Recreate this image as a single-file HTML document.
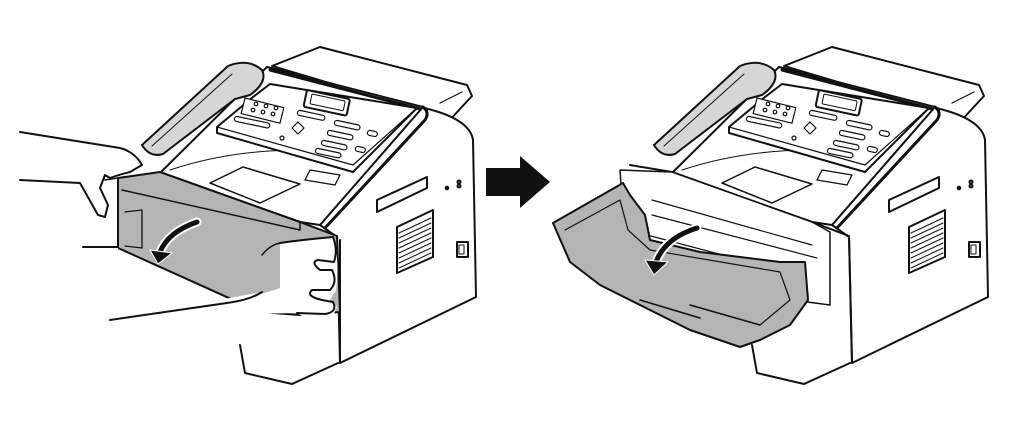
<!DOCTYPE html>
<html><head><meta charset="utf-8"><style>
html,body{margin:0;padding:0;background:#fff;width:1030px;height:427px;overflow:hidden}
svg{display:block}
</style></head><body>
<svg width="1030" height="427" viewBox="0 0 1030 427" xmlns="http://www.w3.org/2000/svg" fill="none" stroke="#111" stroke-width="2" stroke-linejoin="round" stroke-linecap="round">
<defs>
<g id="machine">
  <!-- top paper tray -->
  <path d="M272,66 L320,47 L467,85 L472,96 L447,123 L420,110 Z" fill="#fff"/>
  <path d="M440,103 L462,92" stroke-width="1.2"/>
  <!-- body side -->
  <path d="M420,107 Q470,118 473,140 L476,297 L340,363 L337,237 L320,225 Z" fill="#fff"/>
  <!-- base -->
  <path d="M240,345 L245,373 L292,384 L338,363" fill="#fff"/>
  <!-- lid / top -->
  <path d="M160,173 L267,67 L423,107 L320,225 L300,222 Z" fill="#fff"/>
  <path d="M270,70 L420,109 M423,107 Q430,112 425,120 L325,228" stroke-width="3"/>
  <!-- interior under panel -->
  <path d="M170,170 Q230,150 300,150" stroke-width="1"/>
  <path d="M210,183 L243,167 L300,184 L260,203 Z" fill="#fff" stroke-width="1.5"/>
  <path d="M310,170 L340,175 L335,185 L305,180 Z" fill="#fff" stroke-width="1.3"/>
  <!-- control panel -->
  <path d="M217,127 L253,97 L270,84 L417,108 L353,172 L217,133 Z" fill="#fff"/>
  <path d="M217,127 L353,165 L417,108" stroke-width="1.2"/>
  <rect x="0" y="0" width="44" height="17" rx="2" transform="translate(307,90) rotate(12)" fill="#fff"/>
  <rect x="0" y="0" width="34" height="10" rx="1" transform="translate(312,94) rotate(12)" fill="#fff" stroke-width="1"/>
  <g fill="#fff" stroke-width="1.2">
    <rect x="0" y="0" width="40" height="16" transform="translate(245,98) rotate(14)"/>
    <circle cx="256" cy="104" r="1.8"/><circle cx="266" cy="106" r="1.8"/><circle cx="276" cy="108" r="1.8"/>
    <circle cx="253" cy="110" r="1.8"/><circle cx="263" cy="112" r="1.8"/><circle cx="273" cy="114" r="1.8"/>
    <rect x="0" y="0" width="36" height="5" rx="2.5" transform="translate(235,116) rotate(12)"/>
    <rect x="0" y="0" width="28" height="5" rx="2.5" transform="translate(298,110) rotate(12)"/>
    <rect x="0" y="0" width="26" height="5" rx="2.5" transform="translate(335,120) rotate(12)"/>
    <rect x="0" y="0" width="26" height="5" rx="2.5" transform="translate(328,130) rotate(12)"/>
    <rect x="0" y="0" width="26" height="5" rx="2.5" transform="translate(322,140) rotate(12)"/>
    <rect x="0" y="0" width="26" height="5" rx="2.5" transform="translate(316,148) rotate(12)"/>
    <rect x="0" y="0" width="10" height="5" rx="2.5" transform="translate(368,130) rotate(12)"/>
    <rect x="0" y="0" width="10" height="5" rx="2.5" transform="translate(356,146) rotate(12)"/>
    <path d="M292,128 l6,-6 l6,6 l-6,6 Z"/>
    <circle cx="282" cy="138" r="2"/>
  </g>
  <!-- handset -->
  <path d="M142,145 L228,66 Q248,58 262,70 Q268,82 250,95 L235,99 L163,154 Q150,158 142,145 Z" fill="#d6d6d6"/>
  <path d="M152,146 L232,74" stroke-width="1"/>
  <!-- side details -->
  <path d="M377,200 L427,177 L427,188 L377,212 Z" fill="#fff"/>
  <path d="M397,227 L433,210 L433,257 L397,273 Z" fill="#fff"/>
  <g stroke-width="1"><path d="M399,233 L431,218 M399,238 L431,223 M399,243 L431,228 M399,248 L431,233 M399,253 L431,238 M399,258 L431,243 M399,263 L431,248 M399,268 L431,253"/></g>
  <rect x="457" y="242" width="11" height="15" fill="#fff"/>
  <rect x="459" y="245" width="5" height="9" fill="#fff" stroke-width="1"/>
  <circle cx="447" cy="188" r="1.3"/><circle cx="459" cy="182" r="1.5"/><circle cx="459" cy="186" r="1.5"/>
</g>
</defs>

<!-- ================ Left machine ================ -->
<use href="#machine"/>
<!-- closed front cover -->
<path d="M118,178 L160,172 L300,222 L337,236 L340,312 L300,315 L260,312 L118,248 Z" fill="#b4b4b4"/>
<path d="M160,172 L300,222 L300,230 L122,190" stroke-width="1.5"/>
<path d="M125,212 L142,210 L142,248 L125,246" stroke-width="1.3"/>
<path d="M340,240 L340,363" stroke-width="2"/>
<!-- curved arrow -->
<path d="M197,222 Q168,232 160,252" stroke="#fff" stroke-width="9"/>
<path d="M197,222 Q168,232 160,252" stroke-width="5"/>
<path d="M150,250 L158,264 L172,253 Z" fill="#111" stroke="#fff" stroke-width="1"/>
<!-- upper hand -->
<path d="M20,132 L120,148 Q135,152 142,165 L130,172 Q118,175 110,178 L105,175 L100,188 L108,205 L105,217 L98,215 L80,183 L20,180" fill="#fff"/>
<path d="M105,180 L118,178" stroke-width="1.5"/>
<!-- lower hand -->
<path d="M83,247 L118,248 L118,255 M110,320 L227,303 Q250,298 280,288 L280,243 L333,237 Q340,260 336,290 L330,300 L337,307 L332,318 Q310,322 297,313 L250,314 Q225,318 200,318 L112,326 Z" fill="#fff" stroke="none"/>
<path d="M83,247 L117,247" />
<path d="M110,320 L227,303 Q250,300 262,292 M280,243 Q300,240 333,237 Q338,250 334,262 L318,260 Q310,262 320,270 L332,270 Q338,282 330,290 L312,290 Q305,296 322,300 L333,302 Q338,312 325,314 L297,313" fill="#fff"/>
<path d="M280,243 Q270,245 262,255" stroke-width="1.5"/>

<!-- Arrow -->
<path d="M486,168 L520,168 L520,156 L550,182 L520,208 L520,196 L486,196 Z" fill="#111" stroke="none"/>

<!-- ================ Right machine ================ -->
<g transform="translate(512,0)">
<use href="#machine"/>
<!-- opening frame -->
<path d="M118,165 L160,172 L300,222 L337,236 L340,363" fill="none"/>
<path d="M108,170 L160,172 L300,222 L318,232 L318,305 L130,280 L112,230 Z" fill="#fff" stroke-width="1.5"/>
<path d="M140,200 L300,245 M140,215 L305,258 M135,235 L260,268" stroke-width="1.2"/>
<path d="M140,250 L260,275" stroke-width="3"/>
<path d="M245,265 L275,270 L275,278 L245,273 Z" fill="#fff" stroke-width="1"/>
</g>
<!-- open cover -->
<path d="M553,223 L623,183 L630,195 L645,215 L650,240 L700,252 L780,262 L805,262 L808,300 L790,325 L760,340 L740,347 L690,330 L640,305 L600,285 L570,262 Z" fill="#b4b4b4"/>
<path d="M565,230 L620,200 L628,230 L650,250 L780,272 L790,300 L760,325" stroke-width="1.2"/>
<path d="M640,300 L700,318 M690,305 L760,325" stroke-width="1.5"/>
<!-- curved arrow -->
<path d="M697,228 Q665,238 656,262" stroke="#fff" stroke-width="9"/>
<path d="M697,228 Q665,238 656,262" stroke-width="5"/>
<path d="M645,260 L654,275 L668,262 Z" fill="#111" stroke="#fff" stroke-width="1"/>
</svg>
</body></html>
